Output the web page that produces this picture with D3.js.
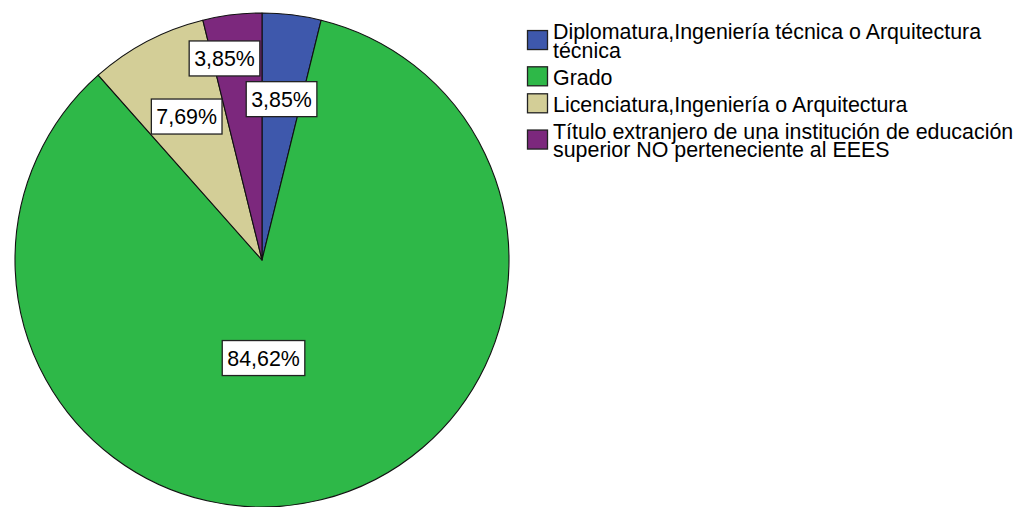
<!DOCTYPE html>
<html>
<head>
<meta charset="utf-8">
<script src="https://cdn.jsdelivr.net/npm/d3@7"></script>
<style>
  body { margin: 0; background: #fff; }
  text { font-family: "Liberation Sans", Arial, sans-serif; }
</style>
</head>
<body>
<svg id="chart" width="1021" height="507"></svg>
<script>
// data
var categories = [
  "Diplomatura,Ingeniería técnica o Arquitectura técnica",
  "Grado",
  "Licenciatura,Ingeniería o Arquitectura",
  "Título extranjero de una institución de educación superior NO perteneciente al EEES"
];
var percents = [3.85, 84.62, 7.69, 3.85];
var colors = ["#3E58AC", "#2EB848", "#D3CE97", "#7C287D"];

// label placement tweaks (fraction of radius, angle nudge in radians)
var labelRadius = [0.656, 0.397, 0.656, 0.83];
var labelNudge = [0, 0.226, 0, -0.063];

var fontSize = 21.4;
var svg = d3.select("#chart");
var cx = 262, cy = 260, r = 247;

var locale = d3.formatLocale({ decimal: ",", thousands: ".", grouping: [3], currency: ["", "€"] });
var fmt = locale.format(".2f");

var pie = d3.pie().sort(null).value(function(d) { return d; });
var arcs = pie(percents);
var arc = d3.arc().innerRadius(0).outerRadius(r);

var g = svg.append("g").attr("transform", "translate(" + cx + "," + cy + ")");

g.selectAll("path.slice")
  .data(arcs)
  .enter().append("path")
    .attr("class", "slice")
    .attr("d", arc)
    .attr("fill", function(d, i) { return colors[i]; })
    .attr("stroke", "#111")
    .attr("stroke-width", 1.1)
    .attr("stroke-linejoin", "round");

// percentage labels in white boxes
var labels = g.selectAll("g.lbl")
  .data(arcs)
  .enter().append("g")
    .attr("class", "lbl")
    .attr("transform", function(d, i) {
      var a = (d.startAngle + d.endAngle) / 2 + labelNudge[i];
      var rr = r * labelRadius[i];
      return "translate(" + (Math.sin(a) * rr) + "," + (-Math.cos(a) * rr) + ")";
    });

labels.each(function(d) {
  var sel = d3.select(this);
  var rect = sel.append("rect");
  var t = sel.append("text")
    .attr("text-anchor", "middle")
    .attr("dy", "0.36em")
    .attr("font-size", fontSize)
    .attr("fill", "#000")
    .text(fmt(d.data) + "%");
  var w = t.node().getComputedTextLength() + 10;
  var h = 35;
  rect.attr("x", -w / 2).attr("y", -h / 2)
    .attr("width", w).attr("height", h)
    .attr("fill", "#fff")
    .attr("stroke", "#222")
    .attr("stroke-width", 1.3);
});

// legend
var legend = svg.append("g").attr("transform", "translate(527,0)");
var textX = 26, maxW = 470, lineH = 18.5, itemGap = 8.5;
var baseline = 39.3;

categories.forEach(function(name, i) {
  var item = legend.append("g");
  var t = item.append("text")
    .attr("x", textX)
    .attr("font-size", fontSize)
    .attr("fill", "#000");
  var words = name.split(" ");
  var lines = [];
  var line = [];
  var probe = t.append("tspan");
  words.forEach(function(w) {
    line.push(w);
    probe.text(line.join(" "));
    if (probe.node().getComputedTextLength() > maxW && line.length > 1) {
      line.pop();
      lines.push(line.join(" "));
      line = [w];
    }
  });
  lines.push(line.join(" "));
  probe.remove();

  lines.forEach(function(l, k) {
    t.append("tspan")
      .attr("x", textX)
      .attr("y", baseline + k * lineH)
      .text(l);
  });

  var top = baseline - 15;
  var bottom = baseline + (lines.length - 1) * lineH + 1;
  var mid = (top + bottom) / 2 - 1.5;
  item.append("rect")
    .attr("x", 0.5)
    .attr("y", mid - 9.5)
    .attr("width", 20)
    .attr("height", 19)
    .attr("fill", colors[i])
    .attr("stroke", "#222")
    .attr("stroke-width", 1.3);

  baseline += lines.length * lineH + itemGap;
});
</script>
</body>
</html>
